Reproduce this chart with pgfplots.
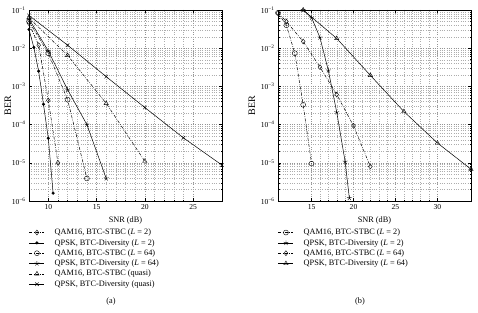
\documentclass[border=0pt]{standalone}
\usepackage{pgfplots}
\pgfplotsset{compat=1.18}
\usepackage{fontspec}
\setmainfont{Liberation Serif}
\usetikzlibrary{plotmarks}

\newcommand{\tf}{\fontsize{8.3}{9.5}\selectfont}
\newcommand{\tkf}{\fontsize{7.6}{9}\selectfont}

\tikzset{
  qam/.style={dash pattern=on 3pt off 1.4pt on 0.7pt off 1.4pt},
  qpsk/.style={solid},
}

\pgfplotsset{
  every axis/.append style={
    scale only axis, width=193bp, height=191bp,
    minor x tick num=4,
    grid=both,
    major grid style={dash pattern=on 0.45pt off 1.9pt, line width=0.35pt, black!42},
    minor grid style={dash pattern=on 0.45pt off 1.9pt, line width=0.35pt, black!32},
    tick align=inside, major tick length=3bp, minor tick length=1.5bp,
    tick style={black, line width=0.4pt},
    axis line style={line width=0.5pt},
    /pgf/number format/assume math mode=true,
    tick label style={font=\tkf},
    label style={font=\tf},
    every axis y label/.style={at={(axis description cs:-0.11,0.5)}, rotate=90, anchor=center},
    legend cell align=left,
  },
  every axis plot/.append style={black, line width=0.5pt, mark size=2.5pt,
    mark options={solid, fill=white, line width=0.4pt}},
  every axis legend/.append style={draw=none, fill=none, font=\tf, inner sep=0pt,
    anchor=north west, at={(0,-0.14)}, row sep=1.1bp, column sep=9bp,
    nodes={inner sep=1pt}},
  legend image code/.code={
    \draw[mark repeat=2, mark phase=2, #1]
      plot coordinates {(0bp,0bp) (7.5bp,0bp) (15bp,0bp)};},
}

\begin{document}
\begin{tikzpicture}
\path[use as bounding box, fill=white] (0,0) rectangle (478bp,313bp);

% (a) BTC-STBC vs BTC-Diversity, L = 2, 64 and quasi
\begin{axis}[at={(29bp,112bp)}, anchor=south west,
  ymode=log, ymin=1e-6, ymax=1e-1,
  ytick={1e-6,1e-5,1e-4,1e-3,1e-2,1e-1},
  yticklabels={10\textsuperscript{−6},10\textsuperscript{−5},10\textsuperscript{−4},10\textsuperscript{−3},10\textsuperscript{−2},10\textsuperscript{−1}},
  xmin=8, xmax=28, xtick={10,15,20,25},
  xlabel={SNR (dB)}, ylabel={BER}]
\addplot[qam, mark=diamond] coordinates {
  (8,4.5e-2) (9,1.2e-2) (10,4.3e-4) (11,1.0e-5)};
\addlegendentry{QAM16, BTC-STBC (\textit{L} = 2)}
\addplot[qpsk, mark=*, mark size=1.3pt, mark options={fill=black}] coordinates {
  (8,3.1e-2) (8.5,1.05e-2) (9,2.5e-3) (9.5,3.4e-4) (10,4.4e-5) (10.5,1.6e-6)};
\addlegendentry{QPSK, BTC-Diversity (\textit{L} = 2)}
\addplot[qam, mark=o] coordinates {
  (8,5.0e-2) (10,7.4e-3) (12,4.5e-4) (14,3.9e-6)};
\addlegendentry{QAM16, BTC-STBC (\textit{L} = 64)}
\addplot[qpsk, mark=star] coordinates {
  (8,5.8e-2) (10,8.5e-3) (12,8.2e-4) (14,1.0e-4) (16,3.9e-6)};
\addlegendentry{QPSK, BTC-Diversity (\textit{L} = 64)}
\addplot[qam, mark=triangle] coordinates {
  (8,6.2e-2) (12,6.5e-3) (16,3.6e-4) (20,1.1e-5)};
\addlegendentry{QAM16, BTC-STBC (quasi)}
\addplot[qpsk, mark=x] coordinates {
  (8,7.2e-2) (12,1.2e-2) (16,1.8e-3) (20,2.8e-4) (24,4.5e-5) (28,8.7e-6)};
\addlegendentry{QPSK, BTC-Diversity (quasi)}
\end{axis}

% (b) L = 2 and L = 64
\begin{axis}[at={(278bp,112bp)}, anchor=south west,
  ymode=log, ymin=1e-6, ymax=1e-1,
  ytick={1e-6,1e-5,1e-4,1e-3,1e-2,1e-1},
  yticklabels={10\textsuperscript{−6},10\textsuperscript{−5},10\textsuperscript{−4},10\textsuperscript{−3},10\textsuperscript{−2},10\textsuperscript{−1}},
  xmin=11, xmax=34, xtick={15,20,25,30},
  xlabel={SNR (dB)}, ylabel={BER},
  every axis y label/.style={at={(axis description cs:-0.135,0.5)}, rotate=90, anchor=center}]
\addplot[qam, mark=o] coordinates {
  (11,8.4e-2) (12,4.0e-2) (13,7.4e-3) (14,3.3e-4) (15,9.5e-6)};
\addlegendentry{QAM16, BTC-STBC (\textit{L} = 2)}
\addplot[qpsk, mark=star] coordinates {
  (14,1.0e-1) (15,6.3e-2) (16,1.9e-2) (17,2.6e-3) (18,2.1e-4) (19,1.07e-5) (19.5,1.2e-6)};
\addlegendentry{QPSK, BTC-Diversity (\textit{L} = 2)}
\addplot[qam, mark=diamond] coordinates {
  (11,8.4e-2) (12,5.0e-2) (14,1.5e-2) (16,3.2e-3) (18,6.1e-4) (20,9.3e-5) (22,8.0e-6)};
\addlegendentry{QAM16, BTC-STBC (\textit{L} = 64)}
\addplot[qpsk, mark=triangle] coordinates {
  (14,1.0e-1) (18,1.8e-2) (22,1.95e-3) (26,2.2e-4) (30,3.3e-5) (34,6.8e-6)};
\addlegendentry{QPSK, BTC-Diversity (\textit{L} = 64)}
\end{axis}

\node[font=\tf] at (111bp,11bp) {(a)};
\node[font=\tf] at (360bp,11bp) {(b)};
\end{tikzpicture}
\end{document}
